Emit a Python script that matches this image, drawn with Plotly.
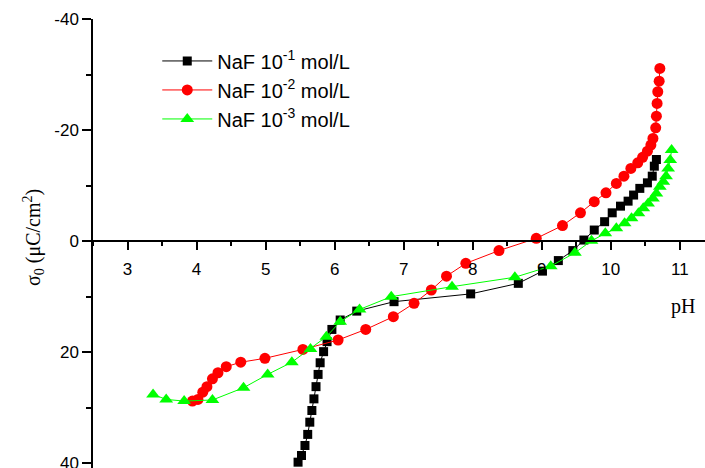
import plotly.graph_objects as go

# ---- data ----
ph_1 = [5.47, 5.52, 5.57, 5.61, 5.64, 5.67, 5.70, 5.73, 5.76, 5.79, 5.84, 5.89, 5.96, 6.08,
        6.32, 6.86, 7.97, 8.66, 9.01, 9.24, 9.45, 9.61, 9.76, 9.91, 10.02, 10.14, 10.25,
        10.33, 10.42, 10.53, 10.60, 10.63, 10.66]
sigma_1 = [39.8, 38.6, 36.8, 34.8, 32.6, 30.5, 28.4, 26.2, 24.0, 21.9, 19.9, 18.1, 15.9, 14.2,
           12.6, 10.9, 9.5, 7.6, 5.4, 3.5, 1.7, -0.2, -2.0, -3.5, -5.1, -6.3, -7.2,
           -8.3, -9.5, -10.5, -11.7, -13.5, -14.7]

ph_2 = [3.94, 4.02, 4.09, 4.15, 4.23, 4.31, 4.43, 4.64, 4.99, 5.54, 6.05, 6.45, 6.85, 7.15,
        7.40, 7.62, 7.90, 8.38, 8.92, 9.30, 9.56, 9.76, 9.93, 10.08, 10.19, 10.29, 10.39,
        10.46, 10.53, 10.58, 10.61, 10.65, 10.66, 10.67, 10.68, 10.70, 10.71]
sigma_2 = [28.8, 28.5, 27.2, 26.2, 24.8, 23.7, 22.6, 21.8, 21.1, 19.5, 17.8, 15.9, 13.6, 11.2,
           8.8, 6.3, 4.0, 1.7, -0.5, -2.8, -5.1, -7.1, -8.7, -10.4, -11.7, -13.1, -14.1,
           -15.1, -16.2, -17.3, -18.5, -20.4, -22.5, -24.8, -26.9, -28.8, -31.1]

ph_3 = [3.37, 3.56, 3.82, 4.23, 4.68, 5.03, 5.38, 5.65, 5.88, 6.08, 6.36, 6.82, 7.70, 8.61,
        9.13, 9.48, 9.72, 9.92, 10.08, 10.20, 10.30, 10.40, 10.47, 10.54, 10.61, 10.66,
        10.71, 10.76, 10.80, 10.83, 10.86, 10.88]
sigma_3 = [27.6, 28.5, 28.8, 28.6, 26.4, 24.0, 21.8, 19.4, 17.2, 14.5, 12.3, 10.0, 8.2, 6.5,
           4.5, 2.1, -0.05, -1.4, -2.3, -3.2, -4.1, -5.0, -5.9, -6.8, -7.7, -8.6,
           -9.8, -10.7, -11.7, -13.1, -14.6, -16.4]

series_names = ["NaF 10<sup>-1</sup> mol/L", "NaF 10<sup>-2</sup> mol/L", "NaF 10<sup>-3</sup> mol/L"]

x_ticks = [3, 4, 5, 6, 7, 8, 9, 10, 11]
y_ticks = [-40, -20, 0, 20, 40]
y_ticktext = ["-40", "-20", "0", "20", "40"]

# ---- figure ----
X_RANGE = [2.5, 11.364]
Y_RANGE = [40.85, -40]  # bottom, top (reversed)

fig = go.Figure()
fig.add_trace(go.Scatter(x=ph_1, y=sigma_1, name=series_names[0], mode="lines+markers",
                         line=dict(color="black", width=1),
                         marker=dict(symbol="square", size=9, color="black")))
fig.add_trace(go.Scatter(x=ph_2, y=sigma_2, name=series_names[1], mode="lines+markers",
                         line=dict(color="#FF0000", width=1),
                         marker=dict(symbol="circle", size=11, color="#FF0000")))
fig.add_trace(go.Scatter(x=ph_3, y=sigma_3, name=series_names[2], mode="lines+markers",
                         line=dict(color="#00FF00", width=1),
                         marker=dict(symbol="triangle-up", size=12, color="#00FF00")))

zero_pos = Y_RANGE[0] / (Y_RANGE[0] - Y_RANGE[1])

fig.update_layout(
    width=705, height=468,
    margin=dict(l=93, r=0, t=19, b=0, autoexpand=False),
    paper_bgcolor="white", plot_bgcolor="white",
    font=dict(family="Liberation Sans, Arial", size=17, color="black"),
    showlegend=True,
    legend=dict(x=0.105, y=0.95, xanchor="left", yanchor="top",
                bgcolor="rgba(0,0,0,0)", font=dict(size=20, family="Liberation Sans, Arial"),
                tracegroupgap=0, itemwidth=50),
    xaxis=dict(range=X_RANGE, showgrid=False, zeroline=False, automargin=False,
               showline=True, linecolor="black", linewidth=1.5,
               anchor="free", position=zero_pos,
               tickmode="array", tickvals=x_ticks,
               ticks="outside", ticklen=8, tickwidth=1.5, tickcolor="black",
               ticklabelstandoff=5,
               minor=dict(dtick=0.5, tick0=2.5, ticks="outside", ticklen=4, tickwidth=1.5,
                          tickcolor="black", showgrid=False),
               tickfont=dict(size=17)),
    yaxis=dict(range=Y_RANGE, showgrid=False, zeroline=False, automargin=False,
               showline=True, linecolor="black", linewidth=1.5,
               tickmode="array", tickvals=y_ticks, ticktext=y_ticktext,
               ticks="outside", ticklen=9, tickwidth=1.5, tickcolor="black",
               ticklabeloverflow="allow",
               minor=dict(tickvals=[-30, -10, 10, 30], ticks="outside", ticklen=5, tickwidth=1.5,
                          tickcolor="black", showgrid=False),
               tickfont=dict(size=17)),
)

fig.add_annotation(text="pH", xref="x", yref="y", x=11.04, y=11.7, showarrow=False,
                   font=dict(family="Liberation Serif, Times New Roman", size=20, color="black"),
                   xanchor="center", yanchor="middle")
fig.add_annotation(text="σ<sub>0</sub> (μC/cm<sup>2</sup>)", xref="paper", yref="paper",
                   x=-0.0975, y=0.513, textangle=-90, showarrow=False,
                   font=dict(family="Liberation Serif, Times New Roman", size=20, color="black"),
                   xanchor="center", yanchor="middle")

fig.write_html("out.html", config={"displayModeBar": False},
               post_script="document.body.style.margin='0';document.body.style.overflow='hidden';")
